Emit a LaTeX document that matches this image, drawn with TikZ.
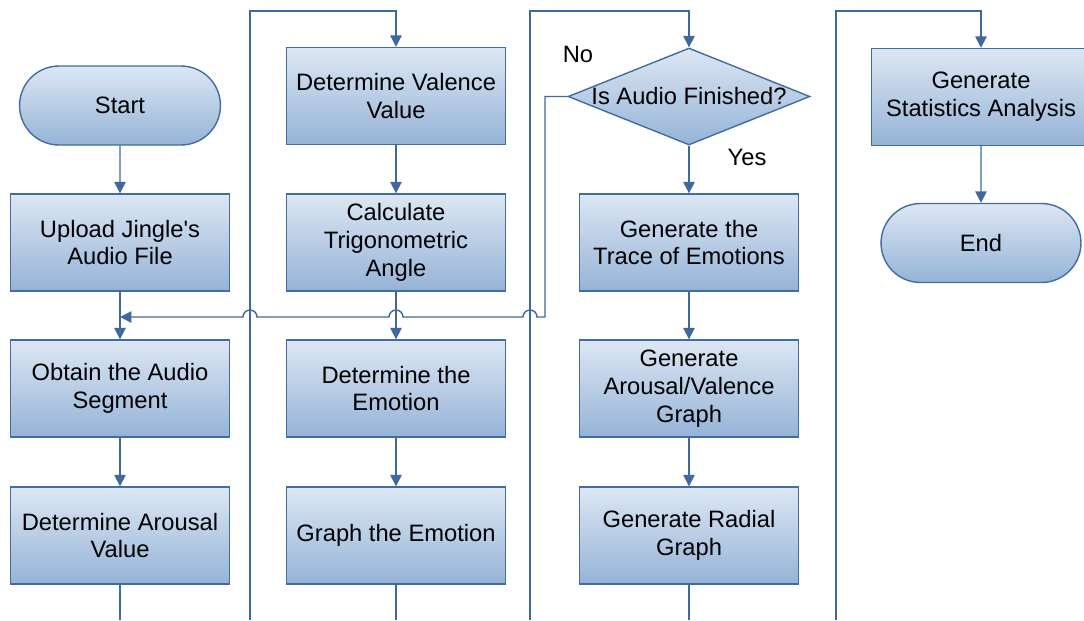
\documentclass[tikz,border=0pt]{standalone}
\usepackage{fontspec}
\setmainfont{Liberation Sans}
\usetikzlibrary{arrows.meta,shapes.geometric,shapes.misc}

\definecolor{boxtop}{RGB}{221,231,243}
\definecolor{boxbot}{RGB}{149,179,215}
\definecolor{boxline}{RGB}{67,108,160}
\definecolor{flowline}{RGB}{62,104,158}

\tikzset{
  flowbox/.style={rectangle, draw=boxline, line width=0.8pt, top color=boxtop, bottom color=boxbot,
    minimum width=4.38cm, minimum height=1.94cm, align=center, inner sep=2pt,
    font=\fontsize{13.5}{15.9}\selectfont},
  terminal/.style={flowbox, rounded rectangle, minimum width=4.16cm, minimum height=1.58cm},
  decision/.style={flowbox, diamond, minimum width=4.84cm, minimum height=1.94cm, inner sep=0pt},
  flow/.style={draw=flowline, line width=0.8pt, -{Triangle[length=0.23cm,width=0.23cm]}},
  plain/.style={draw=flowline, line width=0.8pt},
  answer/.style={font=\fontsize{13.5}{15.9}\selectfont, inner sep=0pt},
}

\begin{document}
\begin{tikzpicture}[x=0.02cm,y=-0.02cm]
\clip (0,0) rectangle (1084,620);

% column 1
\node[terminal] (start) at (120,105.5) {Start};
\node[flowbox] (upload) at (120,242.5) {Upload Jingle\textquotesingle s\\Audio File};
\node[flowbox] (segment) at (120,388.5) {Obtain the Audio\\Segment};
\node[flowbox] (arousal) at (120,535.5) {Determine Arousal\\Value};

% column 2
\node[flowbox] (valence) at (396,96) {Determine Valence\\Value};
\node[flowbox] (angle) at (396,242.5) {Calculate\\Trigonometric\\Angle};
\node[flowbox] (emotion) at (396,388.5) {Determine the\\Emotion};
\node[flowbox] (graph) at (396,535.5) {Graph the Emotion};

% column 3
\node[decision, label={[name=finishedText, font=\fontsize{13.5}{15.9}\selectfont]center:Is Audio Finished?}] (finished) at (689,96.5) {};
\node[answer] (noLabel) at (578,54) {No};
\node[answer] (yesLabel) at (747,157) {Yes};
\node[flowbox] (trace) at (689,242.5) {Generate the\\Trace of Emotions};
\node[flowbox] (avgraph) at (689,388.5) {Generate\\Arousal/Valence\\Graph};
\node[flowbox] (radial) at (689,535.5) {Generate Radial\\Graph};

% column 4
\node[flowbox] (stats) at (981,97) {Generate\\Statistics Analysis};
\node[terminal, minimum width=4.14cm] (end) at (981,243) {End};

% page ends and corners
\coordinate (offA) at (120,620);
\coordinate (inB) at (250,620);
\coordinate (topB) at (250,11);
\coordinate (offB) at (396,620);
\coordinate (inC) at (530,620);
\coordinate (topC) at (530,11);
\coordinate (offC) at (689,620);
\coordinate (inD) at (836,620);
\coordinate (topD) at (836,11);
\coordinate (loopR) at (545,96.5);
\coordinate (loopL) at (120,317);

\draw[flow] (start) -- (upload);
\draw[flow] (upload) -- (segment);
\draw[flow] (segment) -- (arousal);
\draw[plain] (arousal) -- (offA);

\draw[flow] (inB) -- (topB) -| (valence);
\draw[flow] (valence) -- (angle);
\draw[flow] (angle) -- (emotion);
\draw[flow] (emotion) -- (graph);
\draw[plain] (graph) -- (offB);

\draw[flow] (inC) -- (topC) -| (finished);
\draw[flow] (finished) -- (trace);
\draw[flow] (trace) -- (avgraph);
\draw[flow] (avgraph) -- (radial);
\draw[plain] (radial) -- (offC);

\draw[flow] (inD) -- (topD) -| (stats);
\draw[flow] (stats) -- (end);

% loop back, jumping over the crossings
\draw[flow] (finished.west) -- (loopR) |- (537,317)
  arc[start angle=0, end angle=180, radius=0.14cm] -- (403,317)
  arc[start angle=0, end angle=180, radius=0.14cm] -- (257,317)
  arc[start angle=0, end angle=180, radius=0.14cm] -- (loopL);
\end{tikzpicture}
\end{document}
